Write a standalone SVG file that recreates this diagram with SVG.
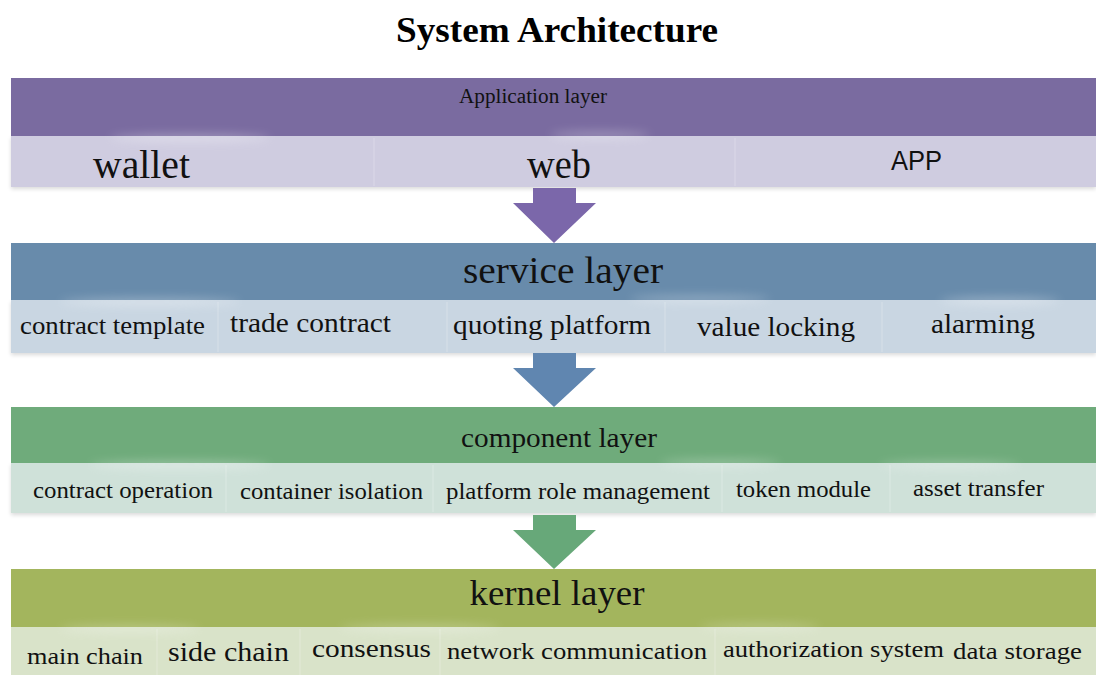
<svg xmlns="http://www.w3.org/2000/svg" width="1096" height="675" viewBox="0 0 1096 675">
  <defs>
    <style>
      .title { font-family: "Liberation Serif", "Times New Roman", serif; font-weight: bold; font-size: 36px; fill: #000; }
      .serif { font-family: "Liberation Serif", "Times New Roman", serif; fill: #111; }
      .sans { font-family: "Liberation Sans", Arial, sans-serif; fill: #111; }
      .divider { stroke: #ffffff; stroke-opacity: 0.18; stroke-width: 1.5; }
      .haze { fill: #ffffff; filter: url(#soft); }
    </style>
    <filter id="soft" x="-20%" y="-200%" width="140%" height="500%">
      <feGaussianBlur stdDeviation="5"/>
    </filter>
    <filter id="shadow" x="-5%" y="-20%" width="110%" height="160%">
      <feGaussianBlur in="SourceAlpha" stdDeviation="2"/>
      <feOffset dy="2"/>
      <feComponentTransfer><feFuncA type="linear" slope="0.15"/></feComponentTransfer>
      <feMerge><feMergeNode/><feMergeNode in="SourceGraphic"/></feMerge>
    </filter>
  </defs>

  <rect width="1096" height="675" fill="#ffffff"/>

  <text class="title" x="557" y="42" text-anchor="middle" textLength="322" lengthAdjust="spacingAndGlyphs">System Architecture</text>

  <!-- Application layer -->
  <g id="application-layer">
    <rect x="11" y="136" width="1085" height="51" fill="#cfcce0" filter="url(#shadow)"/>
    <rect x="11" y="78" width="1085" height="58" fill="#7a6ba0"/>
    <ellipse class="haze" cx="190" cy="138" rx="80" ry="4" opacity="0.3"/>
    <ellipse class="haze" cx="600" cy="135" rx="50" ry="4" opacity="0.25"/>
    <line class="divider" x1="374" y1="138" x2="374" y2="186"/>
    <line class="divider" x1="735" y1="138" x2="735" y2="186"/>
    <text class="serif" x="533" y="103" font-size="20" text-anchor="middle" textLength="148" lengthAdjust="spacingAndGlyphs">Application layer</text>
    <text class="serif" x="93" y="178" font-size="40" textLength="97" lengthAdjust="spacingAndGlyphs">wallet</text>
    <text class="serif" x="527" y="178" font-size="39" textLength="64" lengthAdjust="spacingAndGlyphs">web</text>
    <text class="sans" x="891" y="170" font-size="27" textLength="51" lengthAdjust="spacingAndGlyphs">APP</text>
  </g>

  <!-- Service layer -->
  <g id="service-layer">
    <rect x="11" y="300" width="1085" height="53" fill="#c9d6e2" filter="url(#shadow)"/>
    <rect x="11" y="243" width="1085" height="57" fill="#688bab"/>
    <ellipse class="haze" cx="150" cy="302" rx="90" ry="4" opacity="0.3"/>
    <ellipse class="haze" cx="700" cy="299" rx="70" ry="4" opacity="0.25"/>
    <ellipse class="haze" cx="1000" cy="301" rx="60" ry="4" opacity="0.3"/>
    <line class="divider" x1="218" y1="302" x2="218" y2="352"/>
    <line class="divider" x1="447" y1="302" x2="447" y2="352"/>
    <line class="divider" x1="665" y1="302" x2="665" y2="352"/>
    <line class="divider" x1="882" y1="302" x2="882" y2="352"/>
    <text class="serif" x="563" y="283" font-size="38" text-anchor="middle" textLength="200" lengthAdjust="spacingAndGlyphs">service layer</text>
    <text class="serif" x="20" y="334" font-size="25" textLength="185" lengthAdjust="spacingAndGlyphs">contract template</text>
    <text class="serif" x="230" y="332" font-size="27" textLength="161" lengthAdjust="spacingAndGlyphs">trade contract</text>
    <text class="serif" x="453" y="334" font-size="27" textLength="198" lengthAdjust="spacingAndGlyphs">quoting platform</text>
    <text class="serif" x="697" y="336" font-size="27" textLength="158" lengthAdjust="spacingAndGlyphs">value locking</text>
    <text class="serif" x="931" y="333" font-size="27" textLength="104" lengthAdjust="spacingAndGlyphs">alarming</text>
  </g>

  <!-- Component layer -->
  <g id="component-layer">
    <rect x="11" y="463" width="1085" height="50" fill="#cfe1d9" filter="url(#shadow)"/>
    <rect x="11" y="407" width="1085" height="56" fill="#6fab7b"/>
    <ellipse class="haze" cx="180" cy="465" rx="90" ry="4" opacity="0.3"/>
    <ellipse class="haze" cx="720" cy="463" rx="60" ry="4" opacity="0.25"/>
    <ellipse class="haze" cx="950" cy="465" rx="70" ry="4" opacity="0.25"/>
    <line class="divider" x1="226" y1="465" x2="226" y2="512"/>
    <line class="divider" x1="433" y1="465" x2="433" y2="512"/>
    <line class="divider" x1="722" y1="465" x2="722" y2="512"/>
    <line class="divider" x1="890" y1="465" x2="890" y2="512"/>
    <text class="serif" x="559" y="447" font-size="27" text-anchor="middle" textLength="196" lengthAdjust="spacingAndGlyphs">component layer</text>
    <text class="serif" x="33" y="498" font-size="24" textLength="180" lengthAdjust="spacingAndGlyphs">contract operation</text>
    <text class="serif" x="240" y="499" font-size="24" textLength="183" lengthAdjust="spacingAndGlyphs">container isolation</text>
    <text class="serif" x="446" y="499" font-size="24" textLength="264" lengthAdjust="spacingAndGlyphs">platform role management</text>
    <text class="serif" x="736" y="497" font-size="24" textLength="135" lengthAdjust="spacingAndGlyphs">token module</text>
    <text class="serif" x="913" y="496" font-size="24" textLength="131" lengthAdjust="spacingAndGlyphs">asset transfer</text>
  </g>

  <!-- Kernel layer -->
  <g id="kernel-layer">
    <rect x="11" y="627" width="1085" height="48" fill="#d9e3c9"/>
    <rect x="11" y="569" width="1085" height="58" fill="#a3b55d"/>
    <ellipse class="haze" cx="130" cy="629" rx="70" ry="4" opacity="0.25"/>
    <ellipse class="haze" cx="420" cy="628" rx="80" ry="4" opacity="0.25"/>
    <ellipse class="haze" cx="760" cy="627" rx="60" ry="4" opacity="0.22"/>
    <line class="divider" x1="157" y1="629" x2="157" y2="675"/>
    <line class="divider" x1="300" y1="629" x2="300" y2="675"/>
    <line class="divider" x1="440" y1="629" x2="440" y2="675"/>
    <line class="divider" x1="715" y1="629" x2="715" y2="675"/>
    <text class="serif" x="557" y="605" font-size="36" text-anchor="middle" textLength="175" lengthAdjust="spacingAndGlyphs">kernel layer</text>
    <text class="serif" x="27" y="664" font-size="24" textLength="116" lengthAdjust="spacingAndGlyphs">main chain</text>
    <text class="serif" x="168" y="661" font-size="27" textLength="121" lengthAdjust="spacingAndGlyphs">side chain</text>
    <text class="serif" x="312" y="657" font-size="26" textLength="119" lengthAdjust="spacingAndGlyphs">consensus</text>
    <text class="serif" x="447" y="659" font-size="24" textLength="260" lengthAdjust="spacingAndGlyphs">network communication</text>
    <text class="serif" x="723" y="657" font-size="24" textLength="221" lengthAdjust="spacingAndGlyphs">authorization system</text>
    <text class="serif" x="953" y="659" font-size="24" textLength="129" lengthAdjust="spacingAndGlyphs">data storage</text>
  </g>

  <!-- Block arrows between layers -->
  <g id="connectors">
    <path d="M533,188 H576 V203 H596 L554,243 L513,203 H533 Z" fill="#7b67aa"/>
    <path d="M533,353 H576 V368 H596 L554,407 L513,368 H533 Z" fill="#6086b0"/>
    <path d="M533,515 H576 V530 H596 L554,569 L513,530 H533 Z" fill="#67a879"/>
  </g>
</svg>
